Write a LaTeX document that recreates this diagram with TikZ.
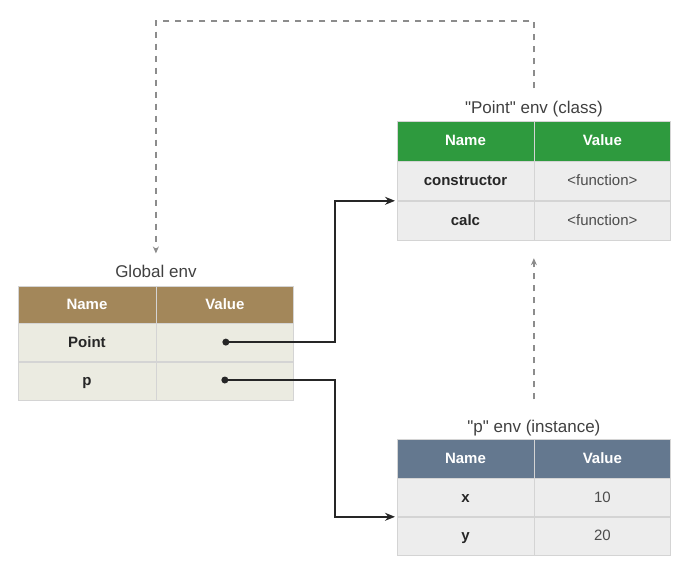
\documentclass[tikz,border=0pt]{standalone}
\usepackage{fontspec}
\setmainfont{Liberation Sans}
\usepackage{tikz}
\usetikzlibrary{arrows.meta,positioning}
\definecolor{gbrown}{HTML}{A3875A}
\definecolor{pgreen}{HTML}{2E9A3E}
\definecolor{islate}{HTML}{64788F}
\definecolor{grow}{HTML}{EBEBE1}
\definecolor{crow}{HTML}{EDEDED}
\definecolor{rule}{HTML}{D4D4D4}
\newcommand{\hdfont}{\fontsize{15}{18}\selectfont\bfseries}
\newcommand{\keyfont}{\fontsize{15}{18}\selectfont\bfseries}
\newcommand{\valfont}{\fontsize{15}{18}\selectfont}
\newcommand{\ttlfont}{\fontsize{17}{20}\selectfont}

\begin{document}
\begin{tikzpicture}[x=1pt,y=-1pt,node distance=0pt,
  hd/.style={draw=rule,fill=#1,text=white,font=\hdfont,minimum width=137.5pt,
             minimum height=38pt,inner sep=0pt,text height=11pt,text depth=2pt},
  cell/.style={draw=rule,fill=#1,text=black!85,font=\valfont,minimum width=137.5pt,
               minimum height=38pt,inner sep=0pt,text height=11pt,text depth=2pt},
  cell/.default=crow,
  key/.style={cell=#1,font=\keyfont},
  key/.default=crow,
  ttl/.style={font=\ttlfont,text=black!75,inner sep=0pt},
  dot/.style={circle,fill=black!85,inner sep=0pt,minimum size=7pt},
  ptr/.style={-{Stealth[length=10pt,width=8pt]},line width=1.6pt,black!85,shorten >=2pt},
  back/.style={-{Stealth[length=7pt,width=6pt]},dashed,dash pattern=on 6pt off 6pt,
               line width=1.2pt,black!45}]
  \useasboundingbox (0,0) rectangle (686,565);
  % global env
  \node[hd=gbrown,anchor=north west,minimum height=37pt] (gname) at (18,286) {Name};
  \node[hd=gbrown,right=of gname,minimum height=37pt] (gval) {Value};
  \node[key=grow,below=of gname] (g1k) {Point};
  \node[cell=grow,below=of gval] (g1v) {};
  \node[key=grow,below=of g1k] (g2k) {p};
  \node[cell=grow,below=of g1v] (g2v) {};
  \node[ttl,anchor=base] (gttl) at ([yshift=9pt]gname.north east) {Global env};
  \node[dot] (gpt) at ([xshift=1pt,yshift=0.5pt]g1v.center) {};
  \node[dot] (gp) at ([yshift=1pt]g2v.center) {};
  % class env
  \node[hd=pgreen,anchor=north west,minimum width=136.5pt,minimum height=40pt] (cname) at (397,121) {Name};
  \node[hd=pgreen,right=of cname,minimum width=136.5pt,minimum height=40pt] (cval) {Value};
  \node[key,below=of cname,minimum width=136.5pt,minimum height=39pt] (c1k) {constructor};
  \node[cell,below=of cval,minimum width=136.5pt,minimum height=39pt,text=black!70] (c1v) {<function>};
  \node[key,below=of c1k,minimum width=136.5pt,minimum height=39pt] (c2k) {calc};
  \node[cell,below=of c1v,minimum width=136.5pt,minimum height=39pt,text=black!70] (c2v) {<function>};
  \node[ttl,anchor=base] (cttl) at ([yshift=8pt]cname.north east) {\textquotedbl Point\textquotedbl{} env (class)};
  % instance env
  \node[hd=islate,anchor=north west,minimum width=136.5pt,minimum height=39pt] (iname) at (397,439) {Name};
  \node[hd=islate,right=of iname,minimum width=136.5pt,minimum height=39pt] (ival) {Value};
  \node[key,below=of iname,minimum width=136.5pt] (x1k) {x};
  \node[cell,below=of ival,minimum width=136.5pt,text=black!70] (x1v) {10};
  \node[key,below=of x1k,minimum width=136.5pt] (x2k) {y};
  \node[cell,below=of x1v,minimum width=136.5pt,text=black!70] (x2v) {20};
  \node[ttl,anchor=base] (ittl) at ([yshift=7pt]iname.north east) {\textquotedbl p\textquotedbl{} env (instance)};
  % pointers
  \draw[ptr] (gpt.center) -- ++(109,0) |- (c1k.south west);
  \draw[ptr] (gp.center) -- ++(110,0) |- (x1k.south west);
  \coordinate (top) at (0,21);
  \draw[back] ([yshift=20pt]ittl.north) -- ([yshift=-18pt]c2k.south east);
  \draw[back] ([yshift=12pt]cttl.north) -- (cttl.north |- top) -| ([yshift=11pt]gttl.north);
\end{tikzpicture}
\end{document}
